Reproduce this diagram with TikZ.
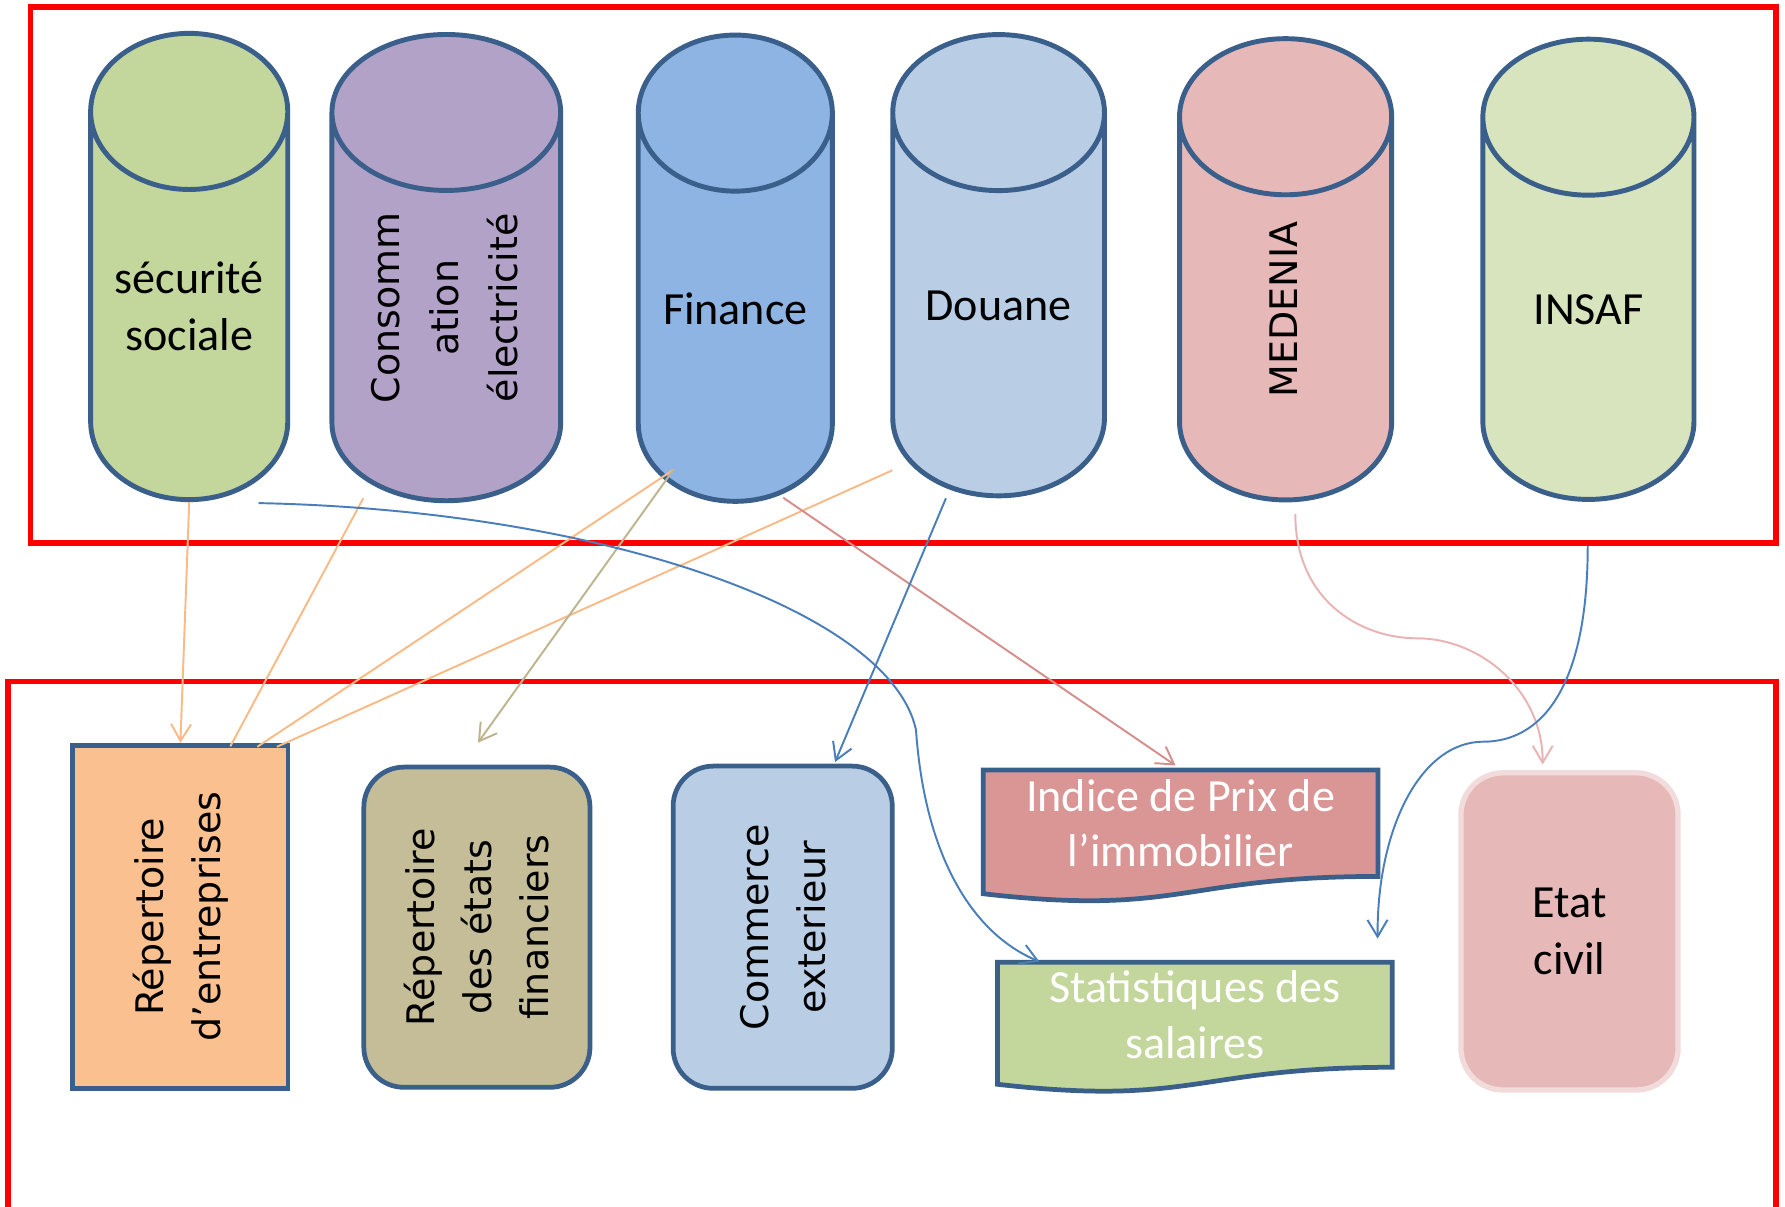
\documentclass[tikz,border=0pt]{standalone}
\usepackage{fontspec}
\setmainfont{Carlito}
\newfontfamily\dejavu{DejaVu Sans}
\usetikzlibrary{shapes.geometric,arrows.meta,calc,backgrounds}
\definecolor{frame}{HTML}{FF0000}
\definecolor{edge}{HTML}{3A5F8B}
\definecolor{secu}{HTML}{C3D69B}
\definecolor{conso}{HTML}{B2A2C7}
\definecolor{fin}{HTML}{8EB4E3}
\definecolor{douane}{HTML}{B9CDE5}
\definecolor{medenia}{HTML}{E6B9B8}
\definecolor{insaf}{HTML}{D7E4BD}
\definecolor{rep}{HTML}{FAC090}
\definecolor{etats}{HTML}{C4BD97}
\definecolor{comm}{HTML}{B9CDE5}
\definecolor{ipi}{HTML}{D99694}
\definecolor{stats}{HTML}{C3D69B}
\definecolor{etat}{HTML}{E6B9B8}
\definecolor{etatline}{HTML}{F2DCDB}
\definecolor{lorange}{HTML}{F9BA85}
\definecolor{ltan}{HTML}{BDB58E}
\definecolor{lpink}{HTML}{D48E8C}
\definecolor{lrose}{HTML}{E8B4B3}
\definecolor{lblue}{HTML}{4A7EBB}
\newcommand{\uptext}[1]{\rotatebox{90}{\begin{tabular}{@{}c@{}}#1\end{tabular}}}
\tikzset{
  cyl/.style={cylinder, draw=edge, line width=1.4pt, shape border rotate=90, minimum height=4.66cm, inner sep=0pt, align=center, font=\fontsize{13.1}{16.2}\selectfont},
  cylup/.style={cyl, font=\dejavu\fontsize{10.8}{16.8}\selectfont},
  box/.style={draw=edge, line width=1.35pt, rotate=90, inner sep=0pt, align=center, font=\dejavu\fontsize{10.8}{16.2}\selectfont},
  doc/.style={minimum width=3.93cm, inner sep=0pt, align=center, text=white, font=\fontsize{13.1}{15.8}\selectfont},
  docline/.style={draw=edge, line width=1.35pt},
  link/.style={line width=0.55pt},
  tip/.style={-{Straight Barb[length=4.8pt,width=5.7pt]}}
}
\begin{document}
\begin{tikzpicture}[x=0.01cm, y=-0.01cm]
\useasboundingbox (0,0) rectangle (1785,1206);
\begin{scope}[on background layer]
\fill[white] (0,0) rectangle (1785,1206);
\end{scope}
\clip (0,0) rectangle (1785,1206);
\draw[frame, line width=1.6pt] (30.6,7.1) rectangle (1776,543);
\draw[frame, line width=1.6pt] (8,681.6) rectangle (1776,1240);

\node[cyl, fill=secu, minimum width=1.97cm, text width=1.97cm, aspect=0.792, anchor=shape center] (secu) at (189.2,266.5) {sécurité\\sociale};
\node[cylup, fill=conso, minimum width=2.286cm, text width=2.286cm, aspect=0.682, anchor=shape center] (conso) at (446.3,267.6) {\uptext{Consomm\\ation\\électricité}};
\node[cyl, fill=fin, minimum width=1.94cm, text width=1.94cm, aspect=0.804, anchor=shape center] (fin) at (735.3,268.2) {Finance};
\node[cyl, fill=douane, minimum width=2.116cm, text width=2.116cm, minimum height=4.61cm, aspect=0.737, anchor=shape center] (douane) at (998.6,265.2) {Douane};
\node[cylup, fill=medenia, minimum width=2.12cm, text width=2.12cm, minimum height=4.61cm, aspect=0.736, anchor=shape center] (medenia) at (1285.6,269.3) {\uptext{MEDENIA}};
\node[cyl, fill=insaf, minimum width=2.11cm, text width=2.11cm, minimum height=4.6cm, aspect=0.739, anchor=shape center] (insaf) at (1588.4,269.3) {INSAF};

\node[box, fill=rep, minimum width=3.43cm, minimum height=2.15cm] (rep) at (180.4,916.8) {Répertoire\\d’entreprises};
\node[box, fill=etats, rounded corners=0.4cm, minimum width=3.2cm, minimum height=2.26cm] (etats) at (476.9,927.2) {Répertoire\\des états\\financiers};
\node[box, fill=comm, rounded corners=0.4cm, minimum width=3.22cm, minimum height=2.19cm] (comm) at (782.7,927.2) {Commerce\\exterieur};
\node[doc] (ipi) at (1180.6,823.2) [minimum height=1.05cm] {Indice de Prix de\\l’immobilier};
\node[doc] (stats) at (1194.9,1014.8) [minimum height=1.035cm] {Statistiques des\\salaires};
\node[draw=etatline, line width=1.5pt, fill=etat, rounded corners=0.42cm, minimum width=2.17cm, minimum height=3.17cm, align=center, font=\fontsize{13.1}{16.2}\selectfont] (etat) at (1569.5,931.4) {Etat\\civil};
\begin{scope}[on background layer]
\draw[docline, fill=ipi] (ipi.south east) -- (ipi.north east) -- (ipi.north west) -- ($(ipi.south west)+(0,17.3)$) .. controls ($(ipi.south)+(0,40)$) and (ipi.south) .. (ipi.south east) -- cycle;
\draw[docline, fill=stats] (stats.south east) -- (stats.north east) -- (stats.north west) -- ($(stats.south west)+(0,17)$) .. controls ($(stats.south)+(0,39.4)$) and (stats.south) .. (stats.south east) -- cycle;
\end{scope}

\draw[link, lorange, tip] (secu.south) -- (rep.east);
\draw[link, lorange] ([shift={(-83,-5)}]conso.south) -- ([shift={(-60,3.5)}]rep.south east);
\draw[link, lorange] ([shift={(-61.8,-34.1)}]fin.south) -- ([shift={(-33,4)}]rep.south east);
\draw[link, lorange] ([shift={(-106.3,-28)}]douane.south) -- ([shift={(-13.5,4)}]rep.south east);
\draw[link, ltan, tip] ([shift={(-61.8,-34.1)}]fin.south) -- ([shift={(1,-22)}]etats.east);
\draw[link, lpink, tip] ([shift={(47.9,-6.1)}]fin.south) -- ([shift={(-5,-4.5)}]ipi.north);
\draw[link, lblue, tip] ([shift={(-52.7,0)}]douane.south) -- ([shift={(-59.6,-1.7)}]comm.south east);
\draw[link, lblue, tip] ([shift={(69.3,1)}]secu.south) .. controls (600,510) and (890,610) .. (916,730) .. controls (925,860) and (975,935) .. ([shift={(41.8,-0.8)}]stats.north west);
\draw[link, lrose, tip] ([shift={(9.7,11.7)}]medenia.south) .. controls (1295.3,600) and (1360,638.3) .. (1417,638.3) .. controls (1480,638.3) and (1542.7,690) .. ([shift={(-26.8,-5.7)}]etat.north);
\draw[link, lblue, tip] ([shift={(-0.7,44)}]insaf.south) .. controls (1587.7,690) and (1540,741.7) .. (1483.3,741.7) .. controls (1420,741.7) and (1376.7,830) .. ([shift={(-14.6,-23.7)}]stats.north east);
\end{tikzpicture}
\end{document}
